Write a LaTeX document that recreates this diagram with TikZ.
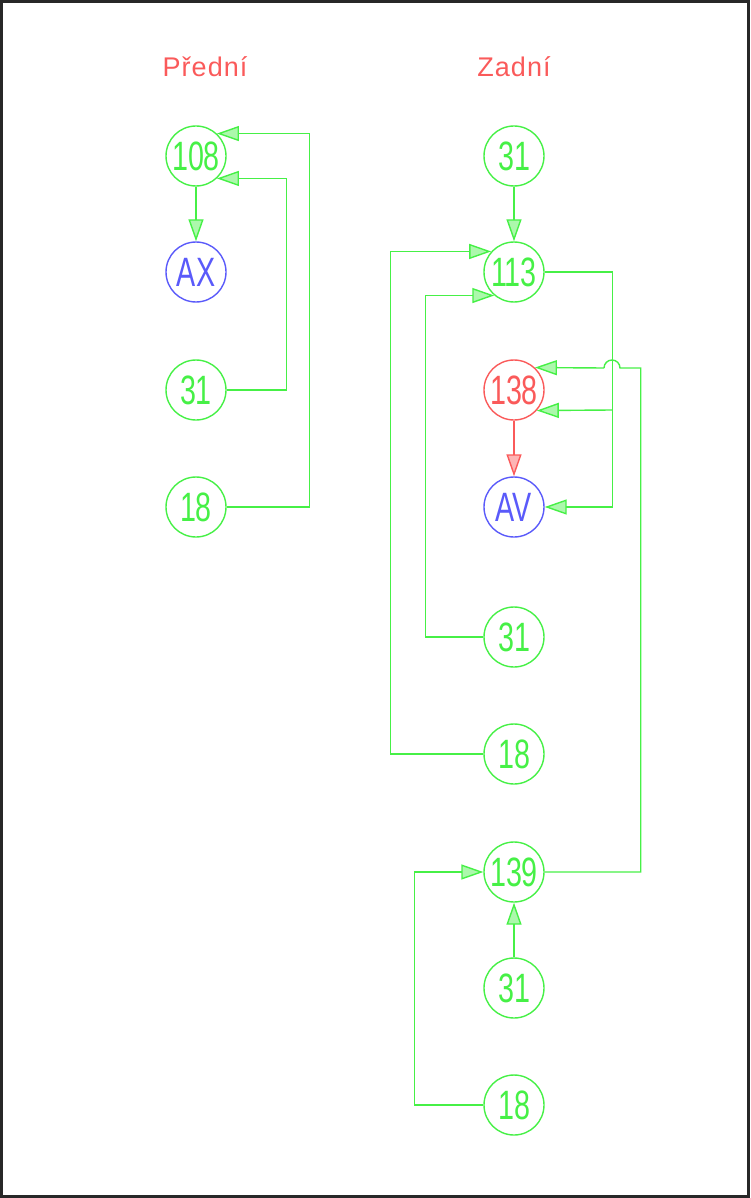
\documentclass[tikz,border=0pt]{standalone}
\usepackage{fontspec}
\setmainfont[FakeStretch=0.7]{Liberation Sans}
\newfontfamily\titlefont[LetterSpace=4]{Liberation Sans}
\usetikzlibrary{arrows.meta}
\definecolor{lgreen}{RGB}{70,240,70}
\definecolor{lblue}{RGB}{90,90,250}
\definecolor{lred}{RGB}{250,90,90}
\definecolor{frame}{RGB}{40,40,40}
\begin{document}
\begin{tikzpicture}[x=1pt,y=-1pt,
  nd/.style={circle,draw=lgreen,text=lgreen,line width=1.4pt,minimum size=60pt,inner sep=0pt,font=\fontsize{41}{41}\selectfont},
  bl/.style={nd,draw=lblue,text=lblue},
  rd/.style={nd,draw=lred,text=lred},
  title/.style={text=lred,font=\titlefont\fontsize{27}{27}\selectfont},
  con/.style={draw=lgreen,line width=1.4pt,-{Triangle[length=22pt,width=15pt,open,fill=lgreen!45]}},
  rcon/.style={con,draw=lred,-{Triangle[length=22pt,width=15pt,open,fill=lred!45]}},
  ln/.style={draw=lgreen,line width=1.4pt}]
\useasboundingbox (0,0) rectangle (750,1198);
\draw[frame,line width=3pt] (1.5,1.5) rectangle (748.5,1196.5);

\node[title] (tP) at (205,67) {Přední};
\node[title] (tZ) at (514,67) {Zadní};

% left column
\node[nd] (a108) at (196,156) {108};
\node[bl] (aAX) at (196,272) {AX};
\node[nd] (a31) at (196,390) {31};
\node[nd] (a18) at (196,507) {18};

% right column
\node[nd] (b31a) at (514,156) {31};
\node[nd] (b113) at (514,272) {113};
\node[rd] (b138) at (514,390) {138};
\node[bl] (bAV) at (514,507) {AV};
\node[nd] (b31b) at (514,637) {31};
\node[nd] (b18a) at (514,754) {18};
\node[nd] (b139) at (514,872) {139};
\node[nd] (b31c) at (514,988) {31};
\node[nd] (b18b) at (514,1105) {18};

% left connectors
\draw[con] (a108) -- (aAX);
\draw[con] (a18.east) -- ++(83,0) |- (a108.47);
\draw[con] (a31.east) -- ++(60,0) |- (a108.-47);

% right connectors
\draw[con] (b31a) -- (b113);
\draw[con] (b18a.west) -- ++(-93,0) |- (b113.138);
\draw[con] (b31b.west) -- ++(-58,0) |- (b113.-130);
\coordinate (vx) at (612,410);
\draw[con] (b113.east) -- ++(68,0) |- (bAV.east);
\draw[con] (vx) -- (b138.-42);
\draw[rcon] (b138) -- (bAV);

\coordinate (hopR) at (620,368);
\draw[ln] (b139.east) -- ++(96,0) |- (hopR) arc[start angle=0,end angle=-180,radius=8];
\coordinate (hopL) at (604,368);
\draw[con] (hopL) -- (b138.47);

\draw[con] (b31c) -- (b139);
\draw[con] (b18b.west) -- ++(-69,0) |- (b139.west);
\end{tikzpicture}
\end{document}
